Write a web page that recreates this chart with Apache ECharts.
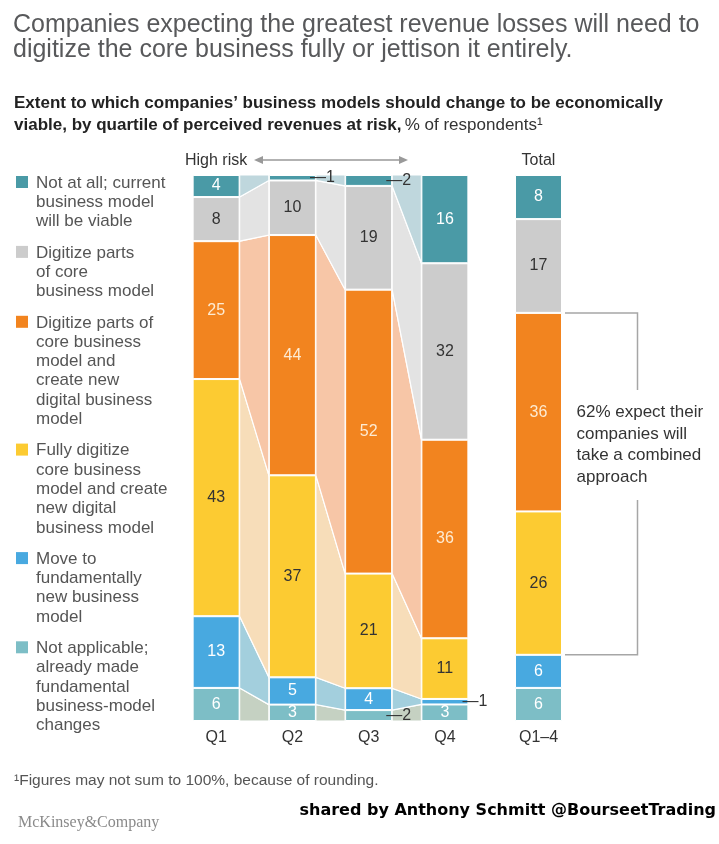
<!DOCTYPE html>
<html>
<head>
<meta charset="utf-8">
<script src="https://cdn.jsdelivr.net/npm/echarts/dist/echarts.min.js"></script>
<style>
  html, body { margin: 0; background: #fff; }
  #chart { width: 719px; height: 844px; }
</style>
</head>
<body>
<div id="chart"></div>
<script>
// categories
const quarters = ['Q1', 'Q2', 'Q3', 'Q4'];
const totalCategory = ['Q1–4'];
const riskLabels = ['High risk', '', '', 'Low risk'];
const totalHeader = ['Total'];

// % of respondents: Q1, Q2, Q3, Q4, Total
const notAtAll       = [4, 1, 2, 16, 8];
const digitizeParts  = [8, 10, 19, 32, 17];
const digitizeAndNew = [25, 44, 52, 36, 36];
const fullyDigitize  = [43, 37, 21, 11, 26];
const moveToNew      = [13, 5, 4, 1, 6];
const notApplicable  = [6, 3, 2, 3, 6];

const legendLabels = [
  'Not at all; current\nbusiness model\nwill be viable',
  'Digitize parts\nof core\nbusiness model',
  'Digitize parts of\ncore business\nmodel and\ncreate new\ndigital business\nmodel',
  'Fully digitize\ncore business\nmodel and create\nnew digital\nbusiness model',
  'Move to\nfundamentally\nnew business\nmodel',
  'Not applicable;\nalready made\nfundamental\nbusiness-model\nchanges'
];
const noteText = '62% expect their\ncompanies will\ntake a combined\napproach';

// stacked bottom -> top
const segments = [notApplicable, moveToNew, fullyDigitize, digitizeAndNew, digitizeParts, notAtAll];
const barColors  = ['#7dbec6', '#48a9e0', '#fccb32', '#f2841f', '#cccccc', '#4a9aa6'];
const bandColors = ['#c5d1c2', '#a3cfdd', '#f7ddb9', '#f7c6a7', '#e3e3e3', '#bfd7dd'];
const labelColors = ['#fff', '#fff', '#333', '#fdebd3', '#333', '#fff'];
// small values labelled beside the bar: [segment, column]
const outsideLabels = [[5, 1], [5, 2], [1, 3], [0, 2]];

const FONT = 'Liberation Sans';
const BAR_W = 47;

const sums = notAtAll.map((_, c) => segments.reduce((a, s) => a + s[c], 0));
// cum[s][c] = bottom of segment s in column c, scaled to 100
const cum = [notAtAll.map(() => 0)];
segments.forEach((s, i) => {
  cum.push(cum[i].map((v, c) => v + s[c] / sums[c] * 100));
});

function barItem(s, c) {
  const raw = segments[s][c];
  const item = { value: raw / sums[c] * 100, raw: raw };
  if (outsideLabels.some(o => o[0] === s && o[1] === c)) {
    item.label = { position: 'right', distance: -6, color: '#333', formatter: '—' + raw };
  }
  return item;
}

const series = [];

const bandData = [];
for (let c = 0; c < quarters.length - 1; c++) {
  for (let s = 0; s < segments.length; s++) {
    bandData.push([c, cum[s][c], cum[s + 1][c], cum[s][c + 1], cum[s + 1][c + 1], s]);
  }
}
series.push({
  type: 'custom',
  xAxisIndex: 0,
  yAxisIndex: 0,
  z: 1,
  silent: true,
  encode: { x: 0, y: [1, 2, 3, 4] },
  data: bandData,
  renderItem: function (params, api) {
    const c = api.value(0);
    const half = BAR_W / 2;
    const a0 = api.coord([c, api.value(1)]);
    const a1 = api.coord([c, api.value(2)]);
    const b0 = api.coord([c + 1, api.value(3)]);
    const b1 = api.coord([c + 1, api.value(4)]);
    return {
      type: 'polygon',
      shape: { points: [
        [a0[0] + half, a0[1]], [a1[0] + half, a1[1]],
        [b1[0] - half, b1[1]], [b0[0] - half, b0[1]]
      ] },
      style: { fill: bandColors[api.value(5)], stroke: '#fff', lineWidth: 1.2 }
    };
  }
});

segments.forEach((seg, s) => {
  const common = {
    type: 'bar',
    barWidth: BAR_W,
    z: 2,
    itemStyle: { color: barColors[s], borderColor: '#fff', borderWidth: 1 },
    label: {
      show: true, position: 'inside', fontSize: 16, fontFamily: FONT,
      color: labelColors[s], formatter: p => String(p.data.raw)
    },
    emphasis: { disabled: true }
  };
  series.push(Object.assign({}, common, {
    xAxisIndex: 0, yAxisIndex: 0, stack: 'q',
    data: quarters.map((_, c) => barItem(s, c))
  }));
  series.push(Object.assign({}, common, {
    xAxisIndex: 2, yAxisIndex: 1, stack: 't',
    data: [barItem(s, quarters.length)]
  }));
});

// bracket around the two "combined" segments of the total bar
const T = quarters.length;
series.push({
  type: 'custom',
  xAxisIndex: 2,
  yAxisIndex: 1,
  silent: true,
  encode: { x: 0, y: [1, 2] },
  data: [[0, cum[4][T], cum[2][T]]],
  renderItem: function (params, api) {
    const top = api.coord([0, api.value(1)]);
    const bot = api.coord([0, api.value(2)]);
    const x0 = top[0] + BAR_W / 2 + 3;
    const x1 = top[0] + 99;
    const line = { stroke: '#a6a6a6', lineWidth: 1.5, fill: null };
    return {
      type: 'group',
      children: [
        { type: 'polyline', shape: { points: [[x0, top[1]], [x1, top[1]], [x1, top[1] + 77]] }, style: line },
        { type: 'polyline', shape: { points: [[x1, top[1] + 187], [x1, bot[1]], [x0, bot[1]]] }, style: line },
        { type: 'text', x: top[0] + 38, y: top[1] + 89,
          style: { text: noteText, fontSize: 17, fontFamily: FONT, fill: '#333', lineHeight: 21.5, verticalAlign: 'top' } }
      ]
    };
  }
});

const axisCommon = {
  axisLine: { show: false }, axisTick: { show: false }, splitLine: { show: false }
};

const graphic = [
  { type: 'text', left: 13, top: 13,
    style: { text: 'Companies expecting the greatest revenue losses will need to\ndigitize the core business fully or jettison it entirely.',
      fontSize: 25, fontFamily: FONT, fill: '#58595b', lineHeight: 25 } },
  { type: 'text', left: 14, top: 95,
    style: { text: '{b|Extent to which companies’ business models should change to be economically}\n{b|viable, by quartile of perceived revenues at risk,} {n|% of respondents¹}',
      rich: {
        b: { fontSize: 17, fontWeight: 'bold', fontFamily: FONT, fill: '#222', lineHeight: 22 },
        n: { fontSize: 17, fontFamily: FONT, fill: '#333', lineHeight: 22 }
      } } },
  { type: 'line', shape: { x1: 258, y1: 160, x2: 404, y2: 160 }, style: { stroke: '#999', lineWidth: 1.5 } },
  { type: 'polygon', shape: { points: [[254, 160], [263, 156], [263, 164]] }, style: { fill: '#999' } },
  { type: 'polygon', shape: { points: [[408, 160], [399, 156], [399, 164]] }, style: { fill: '#999' } },
  { type: 'text', left: 14, top: 773,
    style: { text: '¹Figures may not sum to 100%, because of rounding.', fontSize: 15.5, fontFamily: FONT, fill: '#555' } },
  { type: 'text', left: 18, top: 815,
    style: { text: 'McKinsey&Company', fontSize: 16, fontFamily: 'Liberation Serif', fill: '#8a8a8a' } },
  { type: 'text', right: 3, top: 803,
    style: { text: 'shared by Anthony Schmitt @BourseetTrading', fontSize: 16, fontWeight: 'bold', fontFamily: 'DejaVu Sans', fill: '#000' } }
];

let ly = 183;
legendLabels.forEach((txt, i) => {
  const lines = txt.split('\n').length;
  graphic.push({ type: 'rect', shape: { x: 16, y: ly - 7, width: 12, height: 12 }, style: { fill: barColors[5 - i] } });
  graphic.push({ type: 'text', x: 36, y: ly - 9.6,
    style: { text: txt, fontSize: 17, fontFamily: FONT, fill: '#555', lineHeight: 19.3, verticalAlign: 'top' } });
  ly += lines * 19.3 + 12;
});

const chart = echarts.init(document.getElementById('chart'), null, { renderer: 'canvas' });
chart.setOption({
  animation: false,
  backgroundColor: '#fff',
  textStyle: { fontFamily: FONT },
  grid: [
    { left: 178, top: 175, width: 305, height: 546 },
    { left: 500, top: 175, width: 77, height: 546 }
  ],
  xAxis: [
    Object.assign({ type: 'category', gridIndex: 0, data: quarters,
      axisLabel: { fontSize: 16, color: '#333', margin: 9, fontFamily: FONT } }, axisCommon),
    Object.assign({ type: 'category', gridIndex: 0, position: 'top', data: quarters,
      axisLabel: { fontSize: 16, color: '#333', margin: 6, fontFamily: FONT, formatter: (v, i) => riskLabels[i] } }, axisCommon),
    Object.assign({ type: 'category', gridIndex: 1, data: totalCategory,
      axisLabel: { fontSize: 16, color: '#333', margin: 9, fontFamily: FONT } }, axisCommon),
    Object.assign({ type: 'category', gridIndex: 1, position: 'top', data: totalCategory,
      axisLabel: { fontSize: 16, color: '#333', margin: 6, fontFamily: FONT, formatter: (v, i) => totalHeader[i] } }, axisCommon)
  ],
  yAxis: [
    Object.assign({ type: 'value', gridIndex: 0, min: 0, max: 100, show: false }, axisCommon),
    Object.assign({ type: 'value', gridIndex: 1, min: 0, max: 100, show: false }, axisCommon)
  ],
  series: series,
  graphic: graphic
});
</script>
</body>
</html>
